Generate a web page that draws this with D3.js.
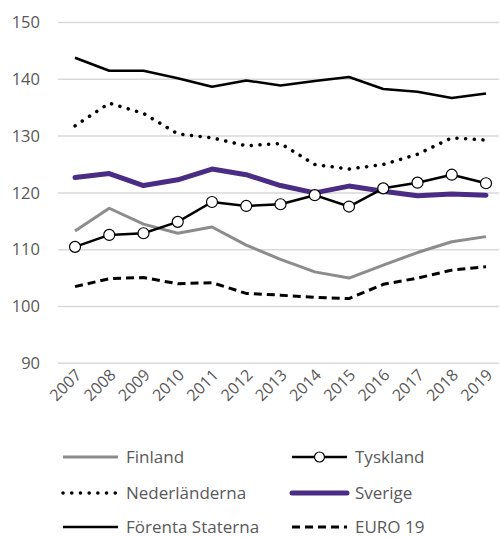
<!DOCTYPE html>
<html><head><meta charset="utf-8">
<script src="https://cdn.jsdelivr.net/npm/d3@7"></script>
<style>body{margin:0;background:#fff}svg{display:block}text{font-family:"Open Sans",sans-serif}</style>
</head><body><svg id="c" width="500" height="538"></svg>
<script>
const years = ["2007","2008","2009","2010","2011","2012","2013","2014","2015","2016","2017","2018","2019"];
const finland = [113.3,117.3,114.5,112.9,114.0,110.8,108.3,106.1,105.0,107.3,109.5,111.4,112.3];
const tyskland = [110.5,112.6,112.9,114.9,118.4,117.7,118.0,119.6,117.6,120.8,121.8,123.2,121.7];
const nederlanderna = [131.8,135.8,134.0,130.4,129.7,128.3,128.7,125.0,124.2,125.0,126.8,129.7,129.3];
const sverige = [122.7,123.4,121.3,122.3,124.2,123.2,121.3,120.0,121.2,120.3,119.5,119.8,119.6];
const forentaStaterna = [143.8,141.5,141.5,140.2,138.7,139.8,138.9,139.7,140.4,138.3,137.8,136.7,137.5];
const euro19 = [103.5,104.9,105.1,104.0,104.2,102.3,102.0,101.6,101.4,103.9,105.0,106.4,107.0];
const yTicks = [90,100,110,120,130,140,150];

const FONT = "'Open Sans',sans-serif";
const svg = d3.select("#c");
const x = d3.scalePoint().domain(years).range([75,486]);
const y = d3.scaleLinear().domain([90,150]).range([363.3,22.5]);

// grid
svg.append("g").selectAll("line").data(yTicks).join("line")
  .attr("x1",58).attr("x2",499).attr("y1",d=>y(d)).attr("y2",d=>y(d))
  .attr("stroke","#d9d9d9").attr("stroke-width",1.5);

const yAxis = svg.append("g").attr("transform","translate(58,0)")
  .call(d3.axisLeft(y).tickValues(yTicks).tickSize(0).tickPadding(18));
yAxis.select(".domain").remove();
yAxis.selectAll("text").attr("fill","#595959").style("font-size","16.5px").style("font-family",FONT);

const xAxis = svg.append("g").attr("transform","translate(0,365)")
  .call(d3.axisBottom(x).tickSize(0).tickPadding(0));
xAxis.select(".domain").remove();
xAxis.selectAll("text").attr("fill","#595959").style("font-size","16px")
  .style("font-family",FONT)
  .attr("text-anchor","end").attr("dy",null).attr("y",0)
  .attr("transform","translate(7,11) rotate(-45)");

const series = [
  {name:"Finland", data:finland, color:"#8c8c8c", w:3, dash:null, cap:"butt"},
  {name:"Tyskland", data:tyskland, color:"#000", w:2.5, dash:null, cap:"butt", marker:true},
  {name:"Nederländerna", data:nederlanderna, color:"#000", w:3.5, dash:"0.1 8.6", cap:"round"},
  {name:"Sverige", data:sverige, color:"#4b2c85", w:5, dash:null, cap:"round"},
  {name:"Förenta Staterna", data:forentaStaterna, color:"#000", w:2.5, dash:null, cap:"butt"},
  {name:"EURO 19", data:euro19, color:"#000", w:3, dash:"8 5", cap:"butt"}
];
const line = d3.line().x((d,i)=>x(years[i])).y(d=>y(d));
const drawOrder = [0,4,2,3,1,5];
drawOrder.forEach(k=>{
  const s = series[k];
  svg.append("path").datum(s.data).attr("d",line).attr("fill","none")
    .attr("stroke",s.color).attr("stroke-width",s.w).attr("stroke-linejoin","round")
    .attr("stroke-linecap",s.cap).attr("stroke-dasharray",s.dash);
  if(s.marker){
    svg.append("g").selectAll("circle").data(s.data).join("circle")
      .attr("cx",(d,i)=>x(years[i])).attr("cy",d=>y(d)).attr("r",5.5)
      .attr("fill","#fff").attr("stroke","#000").attr("stroke-width",1.2);
  }
});

// legend
const lx = [63,292], ly = [457,493,527];
series.forEach((s,i)=>{
  const cx = lx[i%2], cy = ly[Math.floor(i/2)];
  const g = svg.append("g");
  g.append("line").attr("x1",cx).attr("x2",cx+55).attr("y1",cy).attr("y2",cy)
    .attr("stroke",s.color).attr("stroke-width",s.w).attr("stroke-linecap",s.cap)
    .attr("stroke-dasharray",s.dash);
  if(s.marker) g.append("circle").attr("cx",cx+27.5).attr("cy",cy).attr("r",5)
    .attr("fill","#fff").attr("stroke","#000").attr("stroke-width",1.2);
  g.append("text").attr("x",cx+63).attr("y",cy).attr("dy","0.35em")
    .attr("fill","#595959").style("font-size","17px").style("font-family",FONT).text(s.name);
});
</script></body></html>
